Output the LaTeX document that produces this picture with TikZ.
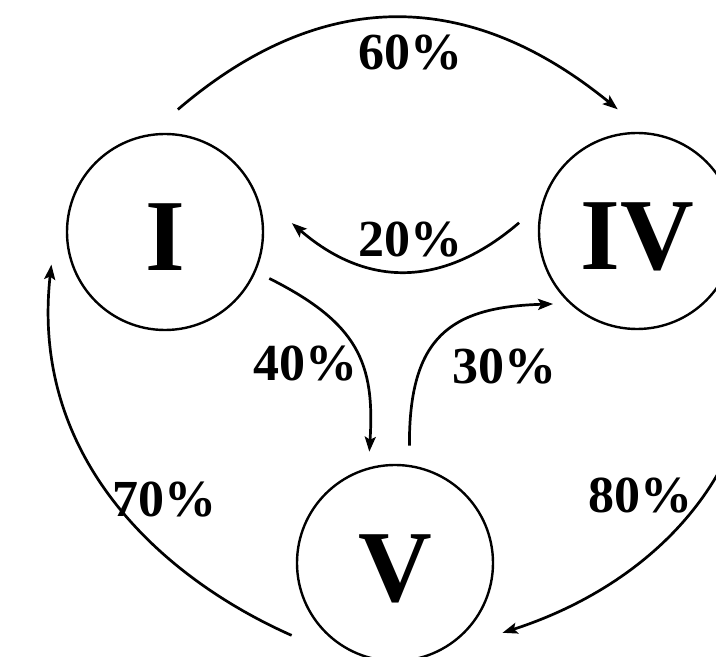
\documentclass[tikz,border=0pt]{standalone}
\usepackage{fontspec}
\setmainfont{Liberation Serif}
\usetikzlibrary{arrows.meta}
\begin{document}
\begin{tikzpicture}[x=1pt,y=1pt,
  state/.style={circle,draw,line width=2.4pt,minimum size=196pt,inner sep=0pt,
    font=\fontsize{102}{102}\selectfont\bfseries,text height=78pt,text depth=0pt},
  pct/.style={font=\fontsize{52}{52}\selectfont\bfseries,inner sep=0pt},
  arr/.style={line width=2.7pt,-{Stealth[length=15pt,width=11pt,inset=3pt]}}]
\useasboundingbox (0,0) rectangle (716,657);
\fill[white] (0,0) rectangle (716,657);
\clip (0,0) rectangle (716,657);
\node[state] (I) at (165,425) {I};
\node[state] (IV) at (637,426) {IV};
\node[state] (V) at (395,94) {V};
% 60%
\draw[arr] ([shift={(84:24)}]I.84) .. controls (321,670) and (468,670) .. ([shift={(99:24)}]IV.99);
% 20%
\draw[arr] ([shift={(176:19)}]IV.176) .. controls (443,369) and (367,369) .. ([shift={(4:28)}]I.4);
% 40%
\draw[arr] ([shift={(-24:15)}]I.-24) .. controls (358,334) and (375,294) .. ([shift={(103:15)}]V.103);
% 30%
\draw[arr] ([shift={(83:19)}]V.83) .. controls (409,320) and (450,350) .. ([shift={(221:12)}]IV.221);
% 70%
\draw[arr] ([shift={(215:27)}]V.215) .. controls (160,80) and (30,200) .. ([shift={(196:19)}]I.196);
% 80%
\draw[arr] ([shift={(-16:19)}]IV.-16) .. controls (785,200) and (660,75) .. ([shift={(327:29)}]V.327);
\node[pct] (l60) at (410,604) {60\%};
\node[pct] (l20) at (410,417) {20\%};
\node[pct] (l40) at (305,293) {40\%};
\node[pct] (l30) at (504,290) {30\%};
\node[pct] (l70) at (164,157) {70\%};
\node[pct] (l80) at (640,161) {80\%};
\end{tikzpicture}
\end{document}
